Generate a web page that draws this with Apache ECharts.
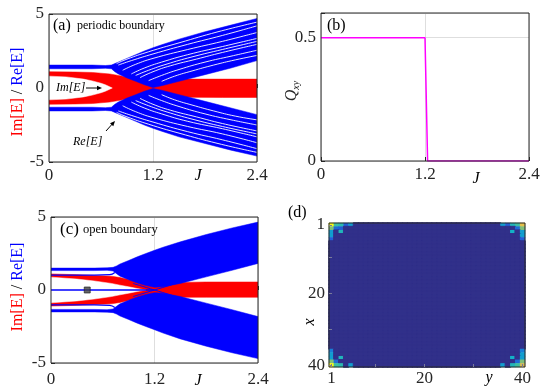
<!DOCTYPE html>
<html>
<head>
<meta charset="utf-8">
<script src="https://cdn.jsdelivr.net/npm/echarts@6/dist/echarts.min.js"></script>
<style>
  * { margin: 0; padding: 0; }
  body { background: #fff; }
  #main { width: 546px; height: 390px; }
</style>
</head>
<body>
<div id="main"></div>
<script>
var FONT = 'Liberation Serif';

// ---- (a) periodic boundary ----
var jBand = [0, 0.5, 0.65, 0.72, 0.76, 0.8, 0.9, 1.0, 1.1, 1.2, 1.3, 1.5, 1.8, 2.1, 2.4];
var aUpTop = [1.55, 1.55, 1.52, 1.55, 1.65, 1.75, 2.0, 2.25, 2.5, 2.72, 2.92, 3.3, 3.8, 4.25, 4.7];
var aUpBot = [1.3, 1.3, 1.33, 1.3, 1.1, 0.95, 0.68, 0.45, 0.22, 0.03, 0.15, 0.45, 0.9, 1.35, 1.85];
var aLoTop = [-1.3, -1.3, -1.33, -1.3, -1.1, -0.95, -0.68, -0.45, -0.22, -0.03, -0.15, -0.45, -0.9, -1.35, -1.8];
var aLoBot = [-1.55, -1.55, -1.52, -1.55, -1.65, -1.75, -2.0, -2.25, -2.5, -2.72, -2.92, -3.3, -3.75, -4.2, -4.6];

var jRedA = [0, 0.3, 0.5, 0.6, 0.7, 0.8, 0.9, 1.0, 1.1, 1.2, 1.6, 2.0, 2.4];
var aRedTop = [1.1, 1.08, 1.05, 1.0, 0.95, 0.85, 0.75, 0.68, 0.62, 0.6, 0.6, 0.6, 0.6];
var aRedBot = [-1.1, -1.08, -1.05, -1.0, -0.95, -0.85, -0.75, -0.68, -0.62, -0.62, -0.63, -0.64, -0.64];

var jLensA = [0, 0.2, 0.4, 0.5, 0.6, 0.65, 0.7, 0.73];
var aLensTop = [0.8, 0.75, 0.6, 0.48, 0.32, 0.22, 0.08, 0];
var aLensBot = [-0.8, -0.75, -0.6, -0.48, -0.32, -0.22, -0.08, 0];

// white gaps between the Re[E] curves
var aStripeJ = [
  [0.78, 0.9, 1.15, 1.5, 1.95, 2.4],
  [0.8, 0.95, 1.2, 1.6, 2.0, 2.4],
  [0.85, 1.0, 1.2, 1.6, 2.0, 2.4],
  [0.95, 1.1, 1.3, 1.6, 2.0, 2.4],
  [1.0, 1.15, 1.35, 1.65, 2.0, 2.4],
  [1.05, 1.2, 1.4, 1.7, 2.0, 2.4],
  [1.15, 1.3, 1.5, 1.8, 2.1, 2.4],
  [1.3, 1.45, 1.65, 1.9, 2.15, 2.4]
];
var aStripeUp = [
  [1.65, 1.95, 2.45, 3.05, 3.8, 4.45],
  [1.55, 1.85, 2.3, 2.95, 3.55, 4.2],
  [1.2, 1.6, 2.0, 2.6, 3.15, 3.75],
  [0.95, 1.35, 1.75, 2.25, 2.8, 3.35],
  [0.85, 1.2, 1.6, 2.1, 2.6, 3.15],
  [0.7, 1.1, 1.5, 1.95, 2.4, 2.95],
  [0.5, 0.85, 1.25, 1.75, 2.15, 2.55],
  [0.45, 0.8, 1.15, 1.55, 1.9, 2.2]
];
var aStripeLo = [
  [-1.65, -1.95, -2.45, -3.05, -3.75, -4.35],
  [-1.55, -1.85, -2.3, -2.95, -3.5, -4.1],
  [-1.2, -1.6, -2.0, -2.6, -3.1, -3.7],
  [-0.95, -1.35, -1.75, -2.25, -2.75, -3.3],
  [-0.85, -1.2, -1.6, -2.1, -2.6, -3.1],
  [-0.7, -1.1, -1.5, -1.95, -2.4, -2.9],
  [-0.5, -0.85, -1.25, -1.75, -2.15, -2.5],
  [-0.45, -0.8, -1.15, -1.55, -1.9, -2.15]
];

// ---- (b) Qxy ----
var bJ = [0, 1.2, 1.23, 2.4];
var bQ = [0.5, 0.5, 0, 0];

// ---- (c) open boundary ----
var cUpTop = [1.5, 1.5, 1.52, 1.55, 1.65, 1.78, 2.02, 2.27, 2.5, 2.72, 2.93, 3.3, 3.8, 4.25, 4.65];
var cUpBot = [1.33, 1.33, 1.35, 1.3, 1.12, 0.95, 0.7, 0.48, 0.3, 0.18, 0.22, 0.45, 0.9, 1.35, 1.82];
var cLoTop = [-1.33, -1.33, -1.35, -1.3, -1.12, -0.95, -0.7, -0.48, -0.3, -0.18, -0.22, -0.45, -0.9, -1.35, -1.82];
var cLoBot = [-1.5, -1.5, -1.52, -1.55, -1.65, -1.78, -2.02, -2.27, -2.5, -2.72, -2.95, -3.35, -3.85, -4.3, -4.7];

var jRedC = [0, 0.3, 0.5, 0.7, 0.8, 0.9, 1.0, 1.1, 1.2, 1.3, 1.5, 1.8, 2.4];
var cRedTop = [1.1, 1.05, 1.0, 0.95, 0.85, 0.72, 0.6, 0.5, 0.42, 0.45, 0.52, 0.55, 0.55];
var cRedBot = [-1.1, -1.05, -1.0, -0.95, -0.85, -0.72, -0.6, -0.5, -0.42, -0.45, -0.5, -0.5, -0.5];

var jLensC = [0, 0.3, 0.5, 0.7, 0.8, 0.9, 1.0, 1.1];
var cLensTop = [0.88, 0.75, 0.62, 0.45, 0.33, 0.22, 0.1, 0];
var cLensBot = [-0.88, -0.75, -0.62, -0.45, -0.33, -0.22, -0.1, 0];

var cSideJ = [0, 0.5, 0.68, 0.74];
var cSideUp = [1.02, 1.02, 1.05, 1.2];
var cSideLo = [-1.02, -1.02, -1.05, -1.2];
var cZeroJ = [0, 1.2];
var cZero = [0, 0];
var cCrossJ = [0.95, 1.2, 1.45];
var cCross1 = [0.45, 0, -0.45];
var cCross2 = [-0.45, 0, 0.45];
var cMarker = [[0.42, 0]];

// ---- (d) edge-state density, 40 x 40 ----
var dSize = 40;
var dTicks = [1, 20, 40];
// [row x, column y, value]
var dTopLeft = [[1,1,1.0],[1,2,0.5],[1,3,0.45],[1,4,0.12],[1,5,0.3],[2,1,0.6],[2,2,0.15],[2,3,0.12],[3,1,0.3],[3,3,0.42],[4,1,0.3],[5,1,0.12]];
var dTopRight = [[1,40,0.8],[1,39,0.5],[1,38,0.42],[1,37,0.12],[1,36,0.3],[2,40,0.6],[2,39,0.15],[3,40,0.3],[3,38,0.38],[4,40,0.3],[5,40,0.12]];
var dBotLeft = [[40,1,1.0],[40,2,0.5],[40,3,0.45],[40,5,0.3],[39,1,0.6],[39,2,0.15],[38,1,0.3],[38,3,0.42],[37,1,0.3],[36,1,0.2]];
var dBotRight = [[40,40,0.75],[40,39,0.5],[40,38,0.42],[40,36,0.3],[39,40,0.6],[39,39,0.15],[38,40,0.3],[38,38,0.38],[37,40,0.3],[36,40,0.2]];
var parula = ['#31308a', '#2160d8', '#1290d4', '#10b2c8', '#3dbea0', '#8ebf72', '#d3ba56', '#fdc83a', '#f9fb15'];

// build helpers
function pairs(xs, ys) { return xs.map(function (x, i) { return [x, ys[i]]; }); }

function band(g, xs, top, bot, color, z) {
  return {
    type: 'custom', xAxisIndex: g, yAxisIndex: g, z: z, silent: true, clip: true,
    data: [[xs[0], top[0]]],
    renderItem: function (params, api) {
      var pts = [];
      for (var i = 0; i < xs.length; i++) pts.push(api.coord([xs[i], top[i]]));
      for (var k = xs.length - 1; k >= 0; k--) pts.push(api.coord([xs[k], bot[k]]));
      return { type: 'polygon', shape: { points: pts }, style: { fill: color, stroke: color, lineWidth: 0.5 } };
    }
  };
}

function curve(g, xs, ys, color, width, z) {
  return {
    type: 'line', xAxisIndex: g, yAxisIndex: g, z: z, silent: true,
    smooth: true, showSymbol: false, symbol: 'none',
    lineStyle: { color: color, width: width },
    data: pairs(xs, ys)
  };
}

function valAxis(g, min, max, interval, margin, fmt) {
  return {
    type: 'value', gridIndex: g, min: min, max: max, interval: interval,
    axisLine: { show: false },
    axisTick: { show: true, inside: true, length: 4, lineStyle: { color: '#262626' } },
    splitLine: { show: true, lineStyle: { color: '#dedede', width: 1 } },
    axisLabel: { fontFamily: FONT, fontSize: 17, color: '#262626', margin: margin, formatter: fmt }
  };
}

function jFmt(v) { return String(+v.toFixed(1)); }

var cats = [];
for (var n = 1; n <= dSize; n++) cats.push(String(n));

function catAxis(g, inverse, margin) {
  return {
    type: 'category', gridIndex: g, data: cats, inverse: inverse, z: 25,
    axisLine: { show: false },
    axisTick: { show: true, inside: true, length: 3, alignWithLabel: true,
      interval: function (i) { return i === 0 || i === 9 || i === 19 || i === 29 || i === 39; },
      lineStyle: { color: '#7a7a9a' } },
    splitLine: { show: false },
    axisLabel: { fontFamily: FONT, fontSize: 17, color: '#262626', margin: margin,
      interval: function (i, v) { return dTicks.indexOf(+v) >= 0; } }
  };
}

var heat = [];
var cornerMap = {};
[dTopLeft, dTopRight, dBotLeft, dBotRight].forEach(function (list) {
  list.forEach(function (c) { cornerMap[c[0] + '_' + c[1]] = c[2]; });
});
for (var r = 1; r <= dSize; r++) {
  for (var c = 1; c <= dSize; c++) {
    var v = cornerMap[r + '_' + c];
    if (v) heat.push([c - 1, r - 1, v]);
    else heat.push({ value: [c - 1, r - 1, 0], itemStyle: { borderColor: parula[0], borderWidth: 1 } });
  }
}

var series = [];
series.push({
  type: 'heatmap', xAxisIndex: 3, yAxisIndex: 3, data: heat, z: 2, silent: true,
  itemStyle: { borderWidth: 0 }, emphasis: { disabled: true }
});

// (a)
series.push(band(0, jRedA, aRedTop, aRedBot, '#ff0000', 3));
series.push(band(0, jLensA, aLensTop, aLensBot, '#ffffff', 4));
series.push(band(0, jBand, aUpTop, aUpBot, '#0000ff', 5));
series.push(band(0, jBand, aLoTop, aLoBot, '#0000ff', 5));
for (var s = 0; s < aStripeJ.length; s++) {
  series.push(curve(0, aStripeJ[s], aStripeUp[s], '#ffffff', 0.9, 6));
  series.push(curve(0, aStripeJ[s], aStripeLo[s], '#ffffff', 0.9, 6));
}

// (b)
series.push({
  type: 'line', xAxisIndex: 1, yAxisIndex: 1, z: 5, silent: true, showSymbol: false, symbol: 'none',
  lineStyle: { color: '#ff00ff', width: 1.5 }, data: pairs(bJ, bQ)
});

// (c)
series.push(band(2, jRedC, cRedTop, cRedBot, '#ff0000', 3));
series.push(band(2, jLensC, cLensTop, cLensBot, '#ffffff', 4));
series.push(band(2, jBand, cUpTop, cUpBot, '#0000ff', 5));
series.push(band(2, jBand, cLoTop, cLoBot, '#0000ff', 5));
series.push(curve(2, cSideJ, cSideUp, '#0000ff', 1.3, 6));
series.push(curve(2, cSideJ, cSideLo, '#0000ff', 1.3, 6));
series.push(curve(2, cZeroJ, cZero, '#0000ff', 1.3, 6));
series.push(curve(2, cCrossJ, cCross1, '#0000ff', 1, 6));
series.push(curve(2, cCrossJ, cCross2, '#0000ff', 1, 6));
series.push({
  type: 'scatter', xAxisIndex: 2, yAxisIndex: 2, z: 7, silent: true,
  symbol: 'rect', symbolSize: 6, itemStyle: { color: '#404040', borderColor: '#1a1a1a', borderWidth: 0.8 },
  data: cMarker
});

function arrow(x1, y1, x2, y2) {
  var a = Math.atan2(y2 - y1, x2 - x1), h = 5, w = 2.2;
  var ca = Math.cos(a), sa = Math.sin(a);
  return [
    { type: 'line', z: 100, shape: { x1: x1, y1: y1, x2: x2 - h * ca * 0.6, y2: y2 - h * sa * 0.6 }, style: { stroke: '#000', lineWidth: 1 } },
    { type: 'polygon', z: 100, shape: { points: [[x2, y2], [x2 - h * ca + w * sa, y2 - h * sa - w * ca], [x2 - h * ca - w * sa, y2 - h * sa + w * ca]] }, style: { fill: '#000' } }
  ];
}

function txt(x, y, text, size, opts) {
  opts = opts || {};
  return {
    type: 'text', x: x, y: y, z: 100, rotation: opts.rot || 0,
    style: {
      text: text, fontFamily: FONT, fontSize: size, fontStyle: opts.italic ? 'italic' : 'normal',
      fill: opts.color || '#000', align: opts.align || 'left', verticalAlign: 'middle', rich: opts.rich
    }
  };
}

var ylabRich = {
  r: { fill: '#ff0000', fontFamily: FONT, fontSize: 16 },
  k: { fill: '#000000', fontFamily: FONT, fontSize: 16 },
  b: { fill: '#0000ff', fontFamily: FONT, fontSize: 16 }
};

var graphics = [
  txt(53, 26, '(a)', 16),
  txt(77, 26, 'periodic boundary', 12),
  txt(327, 26, '(b)', 16),
  txt(60, 230, '(c)', 17),
  txt(83, 230, 'open boundary', 12.5),
  txt(288, 213, '(d)', 16),
  txt(18, 92, '{r|Im[E]}{k| / }{b|Re[E]}', 16, { rot: Math.PI / 2, align: 'center', rich: ylabRich }),
  txt(18, 287, '{r|Im[E]}{k| / }{b|Re[E]}', 16, { rot: Math.PI / 2, align: 'center', rich: ylabRich }),
  txt(292, 91, '{q|Q}{s|xy}', 16, { rot: Math.PI / 2, align: 'center', rich: {
    q: { fontFamily: FONT, fontSize: 16, fontStyle: 'italic', fill: '#262626' },
    s: { fontFamily: FONT, fontSize: 10, fontStyle: 'italic', fill: '#262626', padding: [8, 0, 0, 0] }
  } }),
  txt(198, 176, 'J', 16, { italic: true, align: 'center' }),
  txt(476, 179, 'J', 16, { italic: true, align: 'center' }),
  txt(198, 381, 'J', 16, { italic: true, align: 'center' }),
  txt(310, 322, 'x', 16, { italic: true, align: 'center', rot: Math.PI / 2 }),
  txt(489, 378, 'y', 16, { italic: true, align: 'center' }),
  txt(56, 88, 'Im[E]', 12, { italic: true }),
  txt(73, 142, 'Re[E]', 12, { italic: true })
].concat(arrow(86, 88, 102, 88)).concat(arrow(106, 131, 115, 121));

var gridBase = { show: true, borderColor: '#262626', borderWidth: 1, backgroundColor: 'transparent', z: 20, containLabel: false, outerBoundsMode: 'none' };
function grid(l, t, w, h) { return Object.assign({ left: l, top: t, width: w, height: h }, gridBase); }

var chart = echarts.init(document.getElementById('main'));
chart.setOption({
  animation: false,
  backgroundColor: '#ffffff',
  grid: [grid(49, 14, 208, 148), grid(321, 13, 208, 148), grid(51, 217, 207, 146), grid(329, 223, 196, 144)],
  xAxis: [
    valAxis(0, 0, 2.4, 1.2, 5, jFmt),
    valAxis(1, 0, 2.4, 1.2, 5, jFmt),
    valAxis(2, 0, 2.4, 1.2, 8, jFmt),
    catAxis(3, false, 3)
  ],
  yAxis: [
    valAxis(0, -5, 5, 5, 5),
    valAxis(1, 0, 0.6, 0.5, 5, function (v) { return v === 0 ? '0' : (Math.abs(v - 0.5) < 1e-9 ? '0.5' : ''); }),
    valAxis(2, -5, 5, 5, 5),
    catAxis(3, true, 4)
  ],
  visualMap: { show: false, seriesIndex: 0, min: 0, max: 1, inRange: { color: parula } },
  series: series,
  graphic: graphics
});
</script>
</body>
</html>
